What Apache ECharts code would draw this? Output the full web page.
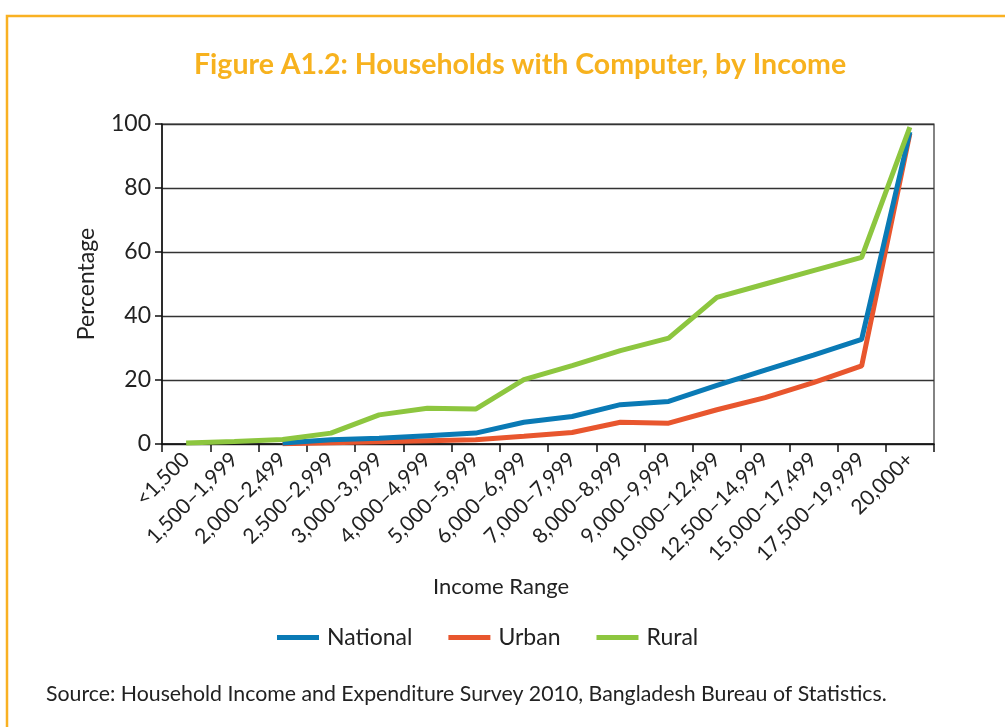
<!DOCTYPE html>
<html>
<head>
<meta charset="utf-8">
<script src="https://cdn.jsdelivr.net/npm/echarts@6/dist/echarts.min.js"></script>
<style>
html,body{margin:0;padding:0;background:#fff;}
#chart{width:1005px;height:727px;}
</style>
</head>
<body>
<div id="chart"></div>
<script>
const categories = ['<1,500','1,500–1,999','2,000–2,499','2,500–2,999','3,000–3,999','4,000–4,999','5,000–5,999','6,000–6,999','7,000–7,999','8,000–8,999','9,000–9,999','10,000–12,499','12,500–14,999','15,000–17,499','17,500–19,999','20,000+'];
const national = [null, null, 0.3, 1.3, 1.8, 2.6, 3.4, 6.8, 8.6, 12.3, 13.3, 18.3, 23.1, 27.8, 32.7, 97.5];
const urban    = [null, null, 0.1, 0.4, 0.7, 1.0, 1.3, 2.4, 3.6, 6.8, 6.5, 10.7, 14.5, 19.2, 24.4, 97];
const rural    = [0.3, 0.8, 1.4, 3.4, 9.1, 11.2, 10.9, 20.1, 24.5, 29.2, 33.1, 45.8, 50.0, 54.2, 58.3, 99];
const yTicks = [0, 20, 40, 60, 80, 100];

const FONT = 'Lato';
const chart = echarts.init(document.getElementById('chart'), null, {renderer:'canvas'});
chart.setOption({
  animation: false,
  backgroundColor: '#fff',
  title: {
    text: 'Figure A1.2: Households with Computer, by Income',
    left: 189, top: 45,
    textStyle: {fontFamily: FONT, fontWeight: 'bold', fontSize: 28.5, color: '#F7B21E'}
  },
  graphic: [{
    type: 'polyline',
    shape: {points: [[7, 727], [7, 16], [1005, 16]]},
    style: {stroke: '#F9B122', lineWidth: 2.5, fill: null}
  }, {
    type: 'text',
    x: 501, y: 587,
    style: {text: 'Income Range', font: '22px Lato', fill: '#222', align: 'center', verticalAlign: 'middle'}
  }, {
    type: 'text',
    x: 46, y: 694,
    style: {text: 'Source: Household Income and Expenditure Survey 2010, Bangladesh Bureau of Statistics.', font: '21.3px Lato', fill: '#222', verticalAlign: 'middle'}
  }],
  legend: {
    top: 621, left: 272,
    icon: 'rect', itemWidth: 42, itemHeight: 5, itemGap: 36,
    textStyle: {fontFamily: FONT, fontSize: 23, color: '#222', padding: [0,0,0,3]},
    data: ['National', 'Urban', 'Rural']
  },
  grid: {left: 162, right: 71, top: 124, bottom: 283, show: true, borderColor: '#333', borderWidth: 1.2},
  xAxis: {
    type: 'category', data: categories, boundaryGap: true,
    axisLine: {lineStyle: {color: '#111', width: 1.5}},
    axisTick: {show: true, length: 8, lineStyle: {color: '#111', width: 1.5}},
    axisLabel: {rotate: 45, fontFamily: FONT, fontSize: 21, color: '#222', margin: 12, interval: 0}
  },
  yAxis: {
    type: 'value', min: 0, max: 100, interval: 20,
    name: 'Percentage', nameLocation: 'middle', nameGap: 64,
    nameTextStyle: {fontFamily: FONT, fontSize: 23, color: '#222'},
    axisLine: {show: true, lineStyle: {color: '#111', width: 1.5}},
    axisTick: {show: true, length: 7, lineStyle: {color: '#111', width: 1.5}},
    axisLabel: {fontFamily: FONT, fontSize: 23, color: '#222', margin: 11,
      formatter: v => yTicks.includes(v) ? String(v) : ''},
    splitLine: {show: true, lineStyle: {color: '#333', width: 1.3}}
  },
  series: [
    {name: 'National', type: 'line', data: national, showSymbol: false, symbol: 'none', connectNulls: false,
     lineStyle: {color: '#0A7AB5', width: 5}, itemStyle: {color: '#0A7AB5'}, z: 3},
    {name: 'Urban', type: 'line', data: urban, showSymbol: false, symbol: 'none',
     lineStyle: {color: '#E8562E', width: 5}, itemStyle: {color: '#E8562E'}, z: 2},
    {name: 'Rural', type: 'line', data: rural, showSymbol: false, symbol: 'none',
     lineStyle: {color: '#8DC63F', width: 5}, itemStyle: {color: '#8DC63F'}, z: 4}
  ]
});
</script>
</body>
</html>
